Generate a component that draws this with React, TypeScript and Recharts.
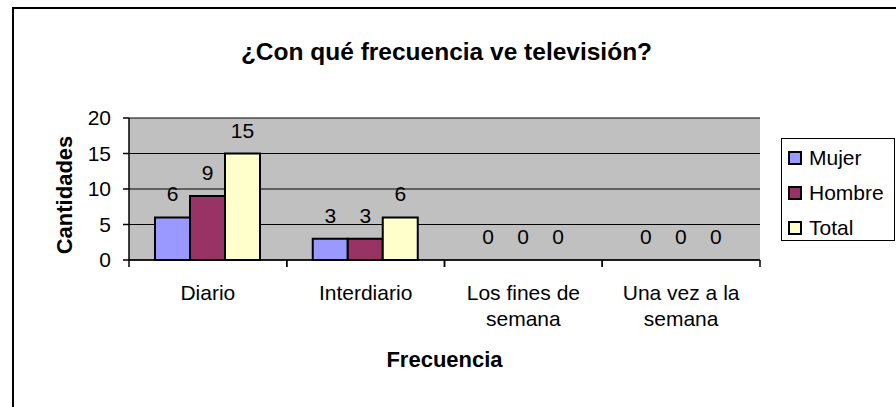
import React from 'react'
import { BarChart, Bar, XAxis, YAxis, CartesianGrid, Legend, LabelList, ReferenceArea, Label, Rectangle } from 'recharts'

const categories = ['Diario', 'Interdiario', 'Los fines de semana', 'Una vez a la semana']
const tickLabels = [['Diario'], ['Interdiario'], ['Los fines de', 'semana'], ['Una vez a la', 'semana']]
const mujer = [6, 3, 0, 0]
const hombre = [9, 3, 0, 0]
const total = [15, 6, 0, 0]
const yTicks = [0, 5, 10, 15, 20]
const seriesNames = ['Mujer', 'Hombre', 'Total']
const seriesColors = ['#9999FF', '#993366', '#FFFFCC']

const FONT = "'Liberation Sans', Arial, sans-serif"

const data = categories.map((name, i) => ({
  name,
  Mujer: mujer[i],
  Hombre: hombre[i],
  Total: total[i]
}))

const CategoryTick = (props: any) => {
  const { x, y, payload, index, width, visibleTicksCount } = props
  const half = payload?.offset || width / visibleTicksCount / 2
  const lines = tickLabels[index] || [payload.value]
  return (
    <g>
      <line x1={x - half} x2={x - half} y1={y} y2={y + 7} stroke="#000" strokeWidth={1.5} />
      <line x1={x + half} x2={x + half} y1={y} y2={y + 7} stroke="#000" strokeWidth={1.5} />
      <text x={x} y={y + 40} textAnchor="middle" fontSize={21} fontFamily={FONT} fill="#000">
        {lines.map((l: string, i: number) => (
          <tspan key={i} x={x} dy={i === 0 ? 0 : 26}>{l}</tspan>
        ))}
      </text>
    </g>
  )
}

// value label above each bar, zero values included
const renderValue = (props: any) => {
  const { x, y, width, value } = props
  return (
    <text x={x + width / 2} y={y - 16} textAnchor="middle" fontSize={21} fontFamily={FONT} fill="#000">
      {String(value)}
    </text>
  )
}

// zero-height bars are kept (so they get a label) but not drawn
const barShape = (props: any) => {
  if (!props.value) return <g />
  return <Rectangle {...props} />
}

const renderLegend = () => (
  <div
    style={{
      width: 114,
      height: 103,
      boxSizing: 'border-box',
      border: '1px solid #000',
      background: '#fff',
      paddingTop: 1,
      fontFamily: FONT,
      fontSize: 21,
      color: '#000'
    }}
  >
    {seriesNames.map((name, i) => (
      <div key={name} style={{ display: 'flex', alignItems: 'center', height: 35, paddingLeft: 6 }}>
        <span
          style={{
            display: 'inline-block',
            width: 10,
            height: 10,
            border: '2px solid #000',
            background: seriesColors[i],
            marginRight: 7
          }}
        />
        {name}
      </div>
    ))}
  </div>
)

export default function App() {
  return (
    <div style={{ position: 'absolute', left: 0, top: 0, width: 896, height: 407, background: '#fff', overflow: 'hidden' }}>
      <div
        style={{
          position: 'absolute',
          left: 12,
          top: 7,
          width: 900,
          height: 420,
          borderLeft: '2px solid #000',
          borderTop: '2px solid #000'
        }}
      />
      <div
        style={{
          position: 'absolute',
          left: 0,
          top: 40,
          width: 893,
          textAlign: 'center',
          fontFamily: FONT,
          fontWeight: 'bold',
          fontSize: 24.5,
          lineHeight: '24px',
          color: '#000'
        }}
      >
        ¿Con qué frecuencia ve televisión?
      </div>
      <div style={{ position: 'absolute', left: 0, top: 0 }}>
        <BarChart
          width={896}
          height={407}
          data={data}
          margin={{ top: 118, right: 136, left: 0, bottom: 0 }}
          barGap={0}
          barSize={35}
        >
          <CartesianGrid vertical={false} stroke="#000" fill="#C0C0C0" />
          <ReferenceArea fill="none" stroke="#808080" strokeWidth={2} />
          <XAxis
            dataKey="name"
            height={147}
            axisLine={{ stroke: '#000', strokeWidth: 1.5 }}
            tickLine={false}
            tickSize={0}
            tickMargin={0}
            interval={0}
            tick={<CategoryTick />}
          >
            <Label
              content={(p: any) => {
                const vb = p.viewBox
                return (
                  <text
                    x={vb.x + vb.width / 2}
                    y={vb.y + 107}
                    textAnchor="middle"
                    fontSize={22}
                    fontWeight="bold"
                    fontFamily={FONT}
                    fill="#000"
                  >
                    Frecuencia
                  </text>
                )
              }}
            />
          </XAxis>
          <YAxis
            width={129}
            domain={[0, 20]}
            ticks={yTicks}
            interval={0}
            axisLine={{ stroke: '#000', strokeWidth: 1.5 }}
            tickLine={{ stroke: '#000', strokeWidth: 1.5 }}
            tickSize={6}
            tickMargin={12}
            tick={{ fill: '#000', fontSize: 21, fontFamily: FONT }}
          >
            <Label
              content={(p: any) => {
                const vb = p.viewBox
                const cx = vb.x + vb.width / 2
                const cy = vb.y + vb.height / 2 + 6
                return (
                  <text
                    x={cx}
                    y={cy}
                    transform={`rotate(-90, ${cx}, ${cy})`}
                    textAnchor="middle"
                    dominantBaseline="central"
                    fontSize={22}
                    fontWeight="bold"
                    fontFamily={FONT}
                    fill="#000"
                  >
                    Cantidades
                  </text>
                )
              }}
            />
          </YAxis>
          <Legend
            layout="vertical"
            align="center"
            verticalAlign="middle"
            content={renderLegend}
            wrapperStyle={{ left: 781, top: 138, width: 114, height: 103 }}
          />
          {seriesNames.map((name, i) => (
            <Bar
              key={name}
              dataKey={name}
              fill={seriesColors[i]}
              stroke="#000"
              strokeWidth={2}
              minPointSize={(v: number) => (v === 0 ? 0.01 : 0)}
              shape={barShape}
              isAnimationActive={false}
            >
              <LabelList dataKey={name} content={renderValue} />
            </Bar>
          ))}
        </BarChart>
      </div>
    </div>
  )
}
